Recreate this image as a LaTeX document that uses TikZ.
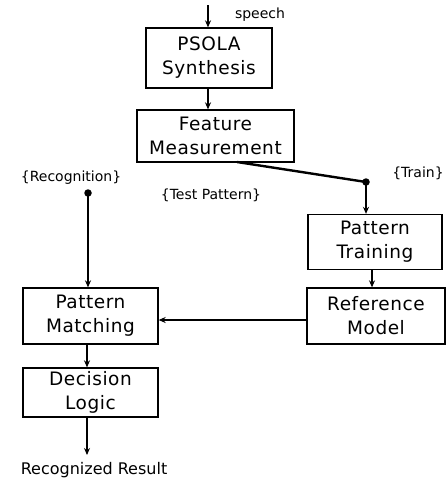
\documentclass[tikz,border=0pt]{standalone}
\usepackage{fontspec}
\setmainfont{DejaVu Sans}
\usetikzlibrary{arrows.meta}
\begin{document}
\begin{tikzpicture}[x=1pt,y=-1pt,
  box/.style={draw,line width=1.3pt,align=center,inner sep=0pt,font=\fontsize{18.5}{24}\selectfont\addfontfeatures{LetterSpace=3}},
  arr/.style={line width=2.4pt,-{Stealth[length=7pt,width=6pt]}},
  conn/.style={line width=2.4pt},
  lbl/.style={inner sep=0pt,font=\fontsize{14}{16}\selectfont},
  dotc/.style={circle,fill,inner sep=0pt,minimum size=7.5pt}]
\useasboundingbox (0,0) rectangle (447,479);
\node[box,minimum width=126pt,minimum height=60pt] (psola) at (209,58) {PSOLA\\Synthesis};
\node[box,minimum width=157pt,minimum height=52pt] (feat) at (215.5,136) {Feature\\Measurement};
\node[box,minimum width=134pt,minimum height=55pt] (pt) at (375,242) {Pattern\\Training};
\node[box,minimum width=138pt,minimum height=56pt] (rm) at (376,316) {Reference\\Model};
\node[box,minimum width=135pt,minimum height=56pt] (pm) at (90.5,316) {Pattern\\Matching};
\node[box,minimum width=135pt,minimum height=49pt] (dl) at (90.5,392.5) {Decision\\Logic};
\coordinate (sp) at (208,5);
\coordinate (fs) at (237,162);
\node[dotc] (tr) at (366,182) {};
\node[dotc] (rd) at (88,193) {};
\coordinate (res) at (87,455);
\node[lbl] (speech) at (260,15) {speech};
\node[lbl] (lrec) at (71,178) {\{Recognition\}};
\node[lbl] (ltest) at (211,195) {\{Test Pattern\}};
\node[lbl] (ltrain) at (418,173) {\{Train\}};
\node[lbl,font=\fontsize{16}{18}\selectfont] (lres) at (94,470) {Recognized Result};
\draw[arr] (sp) -- (sp |- psola.north);
\draw[arr] (sp |- psola.south) -- (sp |- feat.north);
\draw[conn] (fs) -- (tr.center);
\draw[arr] (tr.center) -- (tr |- pt.north);
\draw[arr] ([xshift=-3pt]pt.south) -- ([xshift=-3pt]pt.south |- rm.north);
\draw[arr] ([yshift=-4pt]rm.west) -- ([yshift=-4pt]pm.east);
\draw[arr] (rd.center) -- (rd |- pm.north);
\draw[arr] (res |- pm.south) -- (res |- dl.north);
\draw[arr] (res |- dl.south) -- (res);
\end{tikzpicture}
\end{document}
